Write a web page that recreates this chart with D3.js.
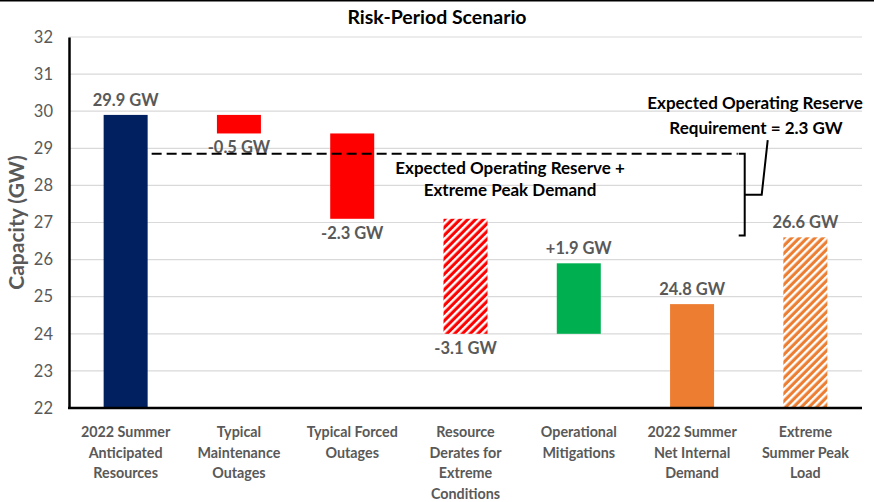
<!DOCTYPE html>
<html>
<head>
<meta charset="utf-8">
<script src="https://cdn.jsdelivr.net/npm/d3@7"></script>
<style>
  body { margin: 0; background: #fff; }
  text { font-family: Lato, "Open Sans", sans-serif; }
</style>
</head>
<body>
<div id="chart-area"></div>
<script>
// data
var categories = [
    ["2022 Summer", "Anticipated", "Resources"],
    ["Typical", "Maintenance", "Outages"],
    ["Typical Forced", "Outages"],
    ["Resource", "Derates for", "Extreme", "Conditions"],
    ["Operational", "Mitigations"],
    ["2022 Summer", "Net Internal", "Demand"],
    ["Extreme", "Summer Peak", "Load"]
];
var barStart = [22, 29.9, 29.4, 27.1, 24.0, 22, 22];
var barEnd = [29.9, 29.4, 27.1, 24.0, 25.9, 24.8, 26.6];
var valueLabels = ["29.9 GW", "-0.5 GW", "-2.3 GW", "-3.1 GW", "+1.9 GW", "24.8 GW", "26.6 GW"];
var labelAbove = [true, false, false, false, true, true, true];
var barFill = ["#002060", "#ff0000", "#ff0000", "url(#hatchRed)", "#00b050", "#ed7d31", "url(#hatchOrange)"];
var yTicks = [22, 23, 24, 25, 26, 27, 28, 29, 30, 31, 32];
var reserveTop = 28.85;     // reserve + extreme peak demand
var reserveBottom = 26.65;  // extreme summer peak load

var margin = { left: 69, right: 12, top: 37, bottom: 94 };
var width = 874 - margin.left - margin.right;
var height = 502 - margin.top - margin.bottom;

var svg = d3.select("#chart-area")
    .append("svg")
    .attr("width", 874)
    .attr("height", 502);

// hatch patterns
var defs = svg.append("defs");
function hatch(id, color) {
    var p = defs.append("pattern")
        .attr("id", id)
        .attr("patternUnits", "userSpaceOnUse")
        .attr("width", 5.5)
        .attr("height", 5.5)
        .attr("patternTransform", "rotate(45)");
    p.append("rect").attr("width", 5.5).attr("height", 5.5).attr("fill", color);
    p.append("rect").attr("x", 0).attr("width", 2.4).attr("height", 5.5).attr("fill", "#fff");
}
hatch("hatchRed", "#ff0000");
hatch("hatchOrange", "#ed7d31");

// top frame line
svg.append("line")
    .attr("x1", 0).attr("x2", 874)
    .attr("y1", 0.5).attr("y2", 0.5)
    .attr("stroke", "#000").attr("stroke-width", 2);

svg.append("text")
    .attr("x", 437)
    .attr("y", 24)
    .attr("text-anchor", "middle")
    .attr("font-size", 19.5)
    .attr("font-weight", "bold")
    .attr("fill", "#000")
    .text("Risk-Period Scenario");

var g = svg.append("g")
    .attr("transform", "translate(" + margin.left + ", " + margin.top + ")");

// Scales
var x = d3.scaleBand()
    .domain(d3.range(categories.length))
    .range([0, width]);

var y = d3.scaleLinear()
    .domain([22, 32])
    .range([height, 0]);

// gridlines
g.selectAll(".grid")
    .data(yTicks.slice(1))
    .enter().append("line")
    .attr("class", "grid")
    .attr("x1", 0).attr("x2", width)
    .attr("y1", function(d) { return y(d); })
    .attr("y2", function(d) { return y(d); })
    .attr("stroke", "#d9d9d9")
    .attr("stroke-width", 1.2);

// y axis
var yAxisGroup = g.append("g")
    .call(d3.axisLeft(y).tickValues(yTicks).tickSize(0).tickPadding(16));
yAxisGroup.select(".domain").attr("stroke", "#000").attr("stroke-width", 2.5);
yAxisGroup.selectAll("text")
    .attr("font-size", 16.5)
    .attr("fill", "#595959")
    .style("font-family", "Lato, 'Open Sans', sans-serif");

svg.append("text")
    .attr("transform", "translate(24, " + (margin.top + y(27.0)) + ") rotate(-90)")
    .attr("text-anchor", "middle")
    .attr("font-size", 21)
    .attr("font-weight", "bold")
    .attr("fill", "#595959")
    .text("Capacity (GW)");

// bars
var barW = 44;
g.selectAll(".bar")
    .data(barEnd)
    .enter().append("rect")
    .attr("class", "bar")
    .attr("x", function(d, i) { return x(i) + x.bandwidth() / 2 - barW / 2; })
    .attr("y", function(d, i) { return y(Math.max(d, barStart[i])); })
    .attr("width", barW)
    .attr("height", function(d, i) { return Math.abs(y(d) - y(barStart[i])); })
    .attr("fill", function(d, i) { return barFill[i]; });

// x axis line
g.append("line")
    .attr("x1", -1).attr("x2", width)
    .attr("y1", height).attr("y2", height)
    .attr("stroke", "#000").attr("stroke-width", 2.5);

// value labels
g.selectAll(".vlabel")
    .data(valueLabels)
    .enter().append("text")
    .attr("class", "vlabel")
    .attr("x", function(d, i) { return x(i) + x.bandwidth() / 2; })
    .attr("y", function(d, i) {
        var top = Math.max(barStart[i], barEnd[i]);
        var bot = Math.min(barStart[i], barEnd[i]);
        return labelAbove[i] ? y(top) - 9 : y(bot) + 20;
    })
    .attr("text-anchor", "middle")
    .attr("font-size", 16.5)
    .attr("font-weight", "bold")
    .attr("fill", "#595959")
    .text(function(d) { return d; });

// category labels
var cat = g.selectAll(".cat")
    .data(categories)
    .enter().append("text")
    .attr("class", "cat")
    .attr("text-anchor", "middle")
    .attr("font-size", 14.3)
    .attr("font-weight", "bold")
    .attr("fill", "#595959");
cat.selectAll("tspan")
    .data(function(d, i) { return d.map(function(t) { return { t: t, i: i }; }); })
    .enter().append("tspan")
    .attr("x", function(d) { return x(d.i) + x.bandwidth() / 2; })
    .attr("y", function(d, j) { return height + 29 + j * 20.5; })
    .text(function(d) { return d.t; });

// reserve dashed line and bracket
var bx = x(5) + x.bandwidth() - 4;        // bracket x
var lineX0 = x(0) + x.bandwidth() / 2 + barW / 2 + 4;
g.append("line")
    .attr("x1", lineX0).attr("x2", bx - 7)
    .attr("y1", y(reserveTop)).attr("y2", y(reserveTop))
    .attr("stroke", "#000").attr("stroke-width", 2)
    .attr("stroke-dasharray", "10,5");

var bracket = d3.path();
bracket.moveTo(bx - 6, y(reserveTop));
bracket.lineTo(bx, y(reserveTop));
bracket.lineTo(bx, y(reserveBottom));
bracket.lineTo(bx - 6, y(reserveBottom));
var midY = y((reserveTop + reserveBottom) / 2);
bracket.moveTo(bx, midY);
bracket.lineTo(bx + 17, midY);
bracket.lineTo(bx + 23, y(29.22));
g.append("path")
    .attr("d", bracket.toString())
    .attr("fill", "none")
    .attr("stroke", "#000")
    .attr("stroke-width", 2);

// annotations
var ann = [
    { t: "Expected Operating Reserve +", x: 510, y: 174 },
    { t: "Extreme Peak Demand", x: 510, y: 196 },
    { t: "Expected Operating Reserve", x: 755, y: 109 },
    { t: "Requirement = 2.3 GW", x: 756, y: 134 }
];
svg.selectAll(".ann")
    .data(ann)
    .enter().append("text")
    .attr("class", "ann")
    .attr("x", function(d) { return d.x; })
    .attr("y", function(d) { return d.y; })
    .attr("text-anchor", "middle")
    .attr("font-size", 17)
    .attr("font-weight", "bold")
    .attr("fill", "#000")
    .text(function(d) { return d.t; });
</script>
</body>
</html>
